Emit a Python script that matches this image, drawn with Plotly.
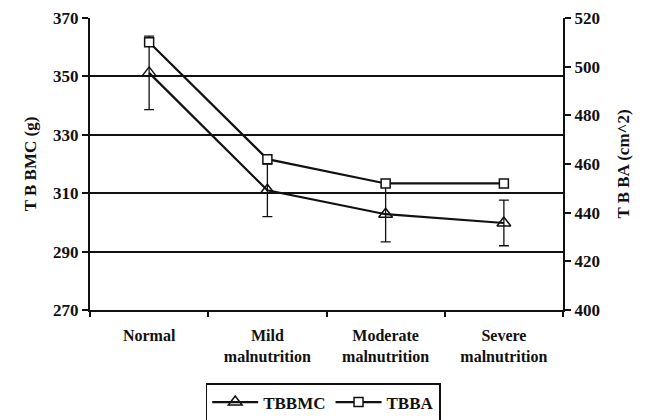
import plotly.graph_objects as go

categories = ["Normal", "Mild<br>malnutrition", "Moderate<br>malnutrition", "Severe<br>malnutrition"]
tbbmc = [351.2, 311.0, 302.8, 299.8]
tbbmc_err = [12.6, 9.0, 9.5, 7.8]
tbba = [510.0, 462.0, 452.0, 452.0]

font_family = "Liberation Serif"
def f(size):
    return dict(family=font_family, size=size, color="#111", weight="bold")

fig = go.Figure()
fig.add_trace(go.Scatter(
    x=categories, y=tbbmc, name="TBBMC", mode="lines+markers",
    line=dict(color="#111", width=2.2),
    marker=dict(symbol="triangle-up-open", size=12, color="#111", line=dict(width=1.5)),
    error_y=dict(type="data", array=tbbmc_err, visible=True, color="#111", thickness=1.3, width=5),
    yaxis="y"))
fig.add_trace(go.Scatter(
    x=categories, y=tbba, name="TBBA", mode="lines+markers",
    line=dict(color="#111", width=2.2),
    marker=dict(symbol="square", size=9, color="white", line=dict(width=1.5, color="#111")),
    yaxis="y2"))

fig.update_layout(
    width=646, height=420,
    margin=dict(l=90, r=83, t=18, b=110, autoexpand=False),
    paper_bgcolor="white", plot_bgcolor="white",
    font=f(14),
    showlegend=True,
    legend=dict(orientation="h", x=0.493, xanchor="center", y=-0.25, yanchor="top",
                bordercolor="#111", borderwidth=1.5, font=f(17),
                itemwidth=46, tracegroupgap=0),
    xaxis=dict(type="category", range=[-0.5, 3.5], showline=True, linecolor="#111", linewidth=2,
               ticks="outside", tickson="boundaries", ticklen=5, tickcolor="#111", tickwidth=2,
               showgrid=False, tickfont=f(16), ticklabelstandoff=10),
    yaxis=dict(range=[270, 370], tick0=270, dtick=20, showline=True, linecolor="#111", linewidth=2,
               ticks="outside", ticklen=6, tickcolor="#111", tickwidth=2,
               showgrid=True, gridcolor="#111", gridwidth=1.5, zeroline=False,
               tickfont=f(17),
               title=dict(text="T B BMC (g)", font=f(17), standoff=12)),
    yaxis2=dict(range=[400, 520], tick0=400, dtick=20, overlaying="y", side="right", showline=True,
                linecolor="#111", linewidth=2, ticks="outside", ticklen=6, tickcolor="#111", tickwidth=2,
                showgrid=False, zeroline=False,
                tickfont=f(17),
                title=dict(text="T B BA (cm^2)", font=f(17), standoff=18)),
)

fig.write_html("out.html")
